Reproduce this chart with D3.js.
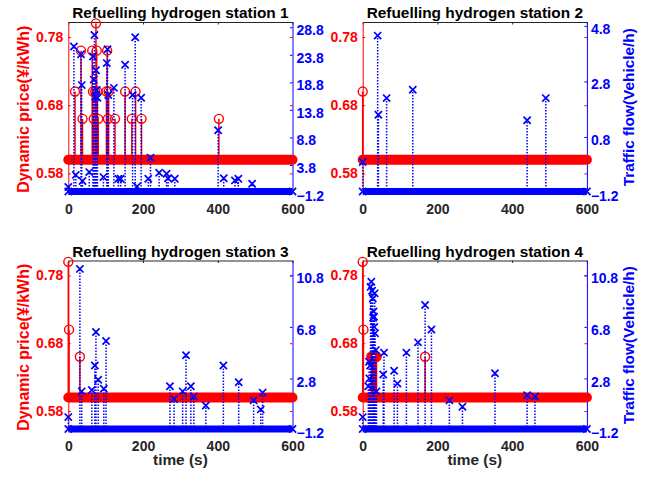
<html>
<head>
<script src="https://d3js.org/d3.v7.min.js"></script>
<style>
  body { margin: 0; background: white; }
  svg text { font-family: "Liberation Sans", Arial, sans-serif; font-weight: bold; }
</style>
</head>
<body>
<svg width="651" height="477"></svg>
<script>
var titles = ["Refuelling hydrogen station 1", "Refuelling hydrogen station 2",
              "Refuelling hydrogen station 3", "Refuelling hydrogen station 4"];
var timeDomain = [0, 600];
var timeTicks = [0, 200, 400, 600];
var priceDomain = [0.552, 0.802];
var priceTicks = [0.58, 0.68, 0.78];
var basePrice = 0.6;

// station 1
var priceTime1 = [18, 34, 38, 64, 66, 68, 72, 74, 76, 78, 80, 102, 104, 106, 108, 125, 152, 170, 180, 196, 403];
var price1 = [0.70, 0.76, 0.66, 0.76, 0.70, 0.66, 0.70, 0.80, 0.76, 0.70, 0.66, 0.70, 0.76, 0.66, 0.70, 0.66, 0.70, 0.66, 0.70, 0.66, 0.66];
var flowTime1 = [0, 15, 20, 34, 36, 38, 56, 66, 68, 70, 72, 74, 76, 78, 94, 103, 105, 107, 122, 134, 140, 152, 172, 179, 184, 195, 214, 220, 243, 263, 267, 285, 401, 416, 446, 455, 492];
var flow1 = [-0.2, 25.3, 2.0, 23.9, 18.3, 0.9, 2.5, 23.5, 19.3, 27.4, 16.2, 21.0, 17.4, 16.0, 1.6, 22.3, 24.8, 16.5, 17.8, 1.3, 1.3, 22.0, 16.5, 27.0, -0.1, 16.0, 1.3, 5.1, 2.4, 2.2, 1.4, 1.3, 10.1, 1.4, 1.0, 1.3, 0.4];
var flowTicks1 = [-1.2, 3.8, 8.8, 13.8, 18.8, 23.8, 28.8];

// station 2
var priceTime2 = [0];
var price2 = [0.70];
var flowTime2 = [0, 40, 42, 64, 134, 440, 490];
var flow2 = [-0.1, 4.45, 1.6, 2.2, 2.5, 1.4, 2.2];
var flowTicks2 = [-1.2, 0.8, 2.8, 4.8];

// station 3
var priceTime3 = [0, 2, 31];
var price3 = [0.80, 0.70, 0.66];
var flowTime3 = [0, 31, 36, 63, 71, 74, 80, 95, 101, 272, 283, 306, 315, 328, 336, 368, 415, 456, 496, 515, 520];
var flow3 = [-0.2, 11.3, 1.8, 1.9, 3.8, 6.4, 2.7, 2.0, 5.7, 2.2, 1.2, 1.8, 4.6, 2.2, 1.4, 0.7, 3.8, 2.5, 1.1, 0.4, 1.7];
var flowTicks3 = [-1.2, 2.8, 6.8, 10.8];

// station 4
var priceTime4 = [0, 2, 23, 25, 27, 29, 31, 33, 35, 37, 167];
var price4 = [0.80, 0.70, 0.66, 0.66, 0.66, 0.66, 0.66, 0.66, 0.66, 0.66, 0.66];
var flowTime4 = [0, 15, 17, 18, 20, 21, 23, 25, 27, 28, 29, 30, 31, 32, 33, 35, 37, 55, 57, 84, 93, 117, 148, 167, 184, 232, 267, 354, 440, 461];
var flow4 = [-0.2, 2.2, 4.1, 2.8, 3.8, 9.9, 10.3, 9.6, 9.0, 7.5, 8.0, 7.6, 6.8, 9.4, 6.3, 5.0, 1.8, 3.1, 4.8, 3.4, 2.4, 4.8, 5.6, 8.5, 6.6, 1.1, 0.6, 3.2, 1.5, 1.4];
var flowTicks4 = [-1.2, 2.8, 6.8, 10.8];

var flowMax = [29.76, 4.94, 11.95, 11.95];

var red = "#ff0000", blue = "#0000ff", ink = "#262626";
var colLeft = [68.3, 362.7], plotW = 224.2;
var rowTop = [22, 260.5], rowBottom = [192.5, 430];
var font = '"Liberation Sans", Arial, sans-serif';

var panels = [
  {pt: priceTime1, pv: price1, ft: flowTime1, fv: flow1, ticks: flowTicks1},
  {pt: priceTime2, pv: price2, ft: flowTime2, fv: flow2, ticks: flowTicks2},
  {pt: priceTime3, pv: price3, ft: flowTime3, fv: flow3, ticks: flowTicks3},
  {pt: priceTime4, pv: price4, ft: flowTime4, fv: flow4, ticks: flowTicks4}
];

var svg = d3.select("svg");

function styleAxis(sel, color) {
  sel.attr("color", color).attr("font-size", 14).attr("font-family", font).attr("font-weight", "bold");
}

panels.forEach(function(p, i) {
  var col = i % 2, row = Math.floor(i / 2);
  var x0 = colLeft[col], top = rowTop[row], bottom = rowBottom[row];
  var xs = d3.scaleLinear().domain(timeDomain).range([x0, x0 + plotW]);
  var yl = d3.scaleLinear().domain(priceDomain).range([bottom, top]);
  var yr = d3.scaleLinear().domain([p.ticks[0], flowMax[i]]).range([bottom, top]);
  var g = svg.append("g");

  // box + ticks
  g.append("g").attr("transform", "translate(0," + top + ")")
    .call(d3.axisTop(xs).tickValues(timeTicks).tickSizeInner(-2.5).tickSizeOuter(0).tickFormat(""))
    .call(styleAxis, ink);

  g.append("g").attr("transform", "translate(0," + bottom + ")")
    .call(d3.axisBottom(xs).tickValues(timeTicks).tickSizeInner(-2.5).tickSizeOuter(0).tickPadding(11.5))
    .call(styleAxis, ink);

  g.append("g").attr("transform", "translate(" + (x0 + plotW) + ",0)")
    .call(d3.axisRight(yl).tickValues(priceTicks).tickSizeInner(-2.5).tickSizeOuter(0).tickFormat(""))
    .call(styleAxis, red)
    .select(".domain").remove();

  g.append("g").attr("transform", "translate(" + x0 + ",0)")
    .call(d3.axisLeft(yl).tickValues(priceTicks).tickSizeInner(-2.5).tickSizeOuter(0).tickPadding(5).tickFormat(d3.format(".2f")))
    .call(styleAxis, red);

  var ra = g.append("g").attr("transform", "translate(" + (x0 + plotW) + ",0)")
    .call(d3.axisRight(yr).tickValues(p.ticks).tickSizeInner(-2.5).tickSizeOuter(0).tickPadding(4).tickFormat(d3.format(".1f")))
    .call(styleAxis, blue);
  ra.selectAll("text").attr("dy", "0.54em");

  // price: base band, stems, circles
  g.append("line")
    .attr("x1", xs(timeDomain[0])).attr("x2", xs(timeDomain[1]))
    .attr("y1", yl(basePrice)).attr("y2", yl(basePrice))
    .attr("stroke", red).attr("stroke-width", 10).attr("stroke-linecap", "round");

  g.selectAll(null).data(p.pt).enter().append("line")
    .attr("x1", function(d) { return xs(d); }).attr("x2", function(d) { return xs(d); })
    .attr("y1", yl(basePrice)).attr("y2", function(d, j) { return yl(p.pv[j]); })
    .attr("stroke", red).attr("stroke-width", 1.5);

  g.selectAll(null).data(p.pt).enter().append("circle")
    .attr("cx", function(d) { return xs(d); })
    .attr("cy", function(d, j) { return yl(p.pv[j]); })
    .attr("r", 4.5).attr("fill", "none").attr("stroke", red).attr("stroke-width", 1.4);

  // traffic flow: base band, dotted stems, x markers
  g.append("line")
    .attr("x1", xs(timeDomain[0])).attr("x2", xs(timeDomain[1]))
    .attr("y1", yr(p.ticks[0]) - 1).attr("y2", yr(p.ticks[0]) - 1)
    .attr("stroke", blue).attr("stroke-width", 7);

  var xMark = "M-3.6,-3.6L3.6,3.6M-3.6,3.6L3.6,-3.6";
  g.selectAll(null).data(timeDomain).enter().append("path")
    .attr("d", xMark)
    .attr("transform", function(d) { return "translate(" + xs(d) + "," + (yr(p.ticks[0]) - 1) + ")"; })
    .attr("stroke", blue).attr("stroke-width", 1.7);

  g.selectAll(null).data(p.ft).enter().append("line")
    .attr("x1", function(d) { return xs(d); }).attr("x2", function(d) { return xs(d); })
    .attr("y1", yr(p.ticks[0])).attr("y2", function(d, j) { return yr(p.fv[j]); })
    .attr("stroke", blue).attr("stroke-width", 1.5).attr("stroke-dasharray", "1.5,1.5");

  g.selectAll(null).data(p.ft).enter().append("path")
    .attr("d", xMark)
    .attr("transform", function(d, j) { return "translate(" + xs(d) + "," + yr(p.fv[j]) + ")"; })
    .attr("stroke", blue).attr("stroke-width", 1.7).attr("fill", "none");

  // texts
  var cx = x0 + plotW / 2, cy = (top + bottom) / 2;
  g.append("text").attr("x", cx).attr("y", top - 4)
    .attr("text-anchor", "middle").attr("font-size", 15.4).attr("fill", "#000")
    .text(titles[i]);

  if (col === 0) {
    g.append("text").attr("transform", "translate(29," + (cy + 2) + ") rotate(-90)")
      .attr("text-anchor", "middle").attr("font-size", 16).attr("fill", red)
      .text("Dynamic price(¥/kWh)");
  } else {
    g.append("text").attr("transform", "translate(634," + cy + ") rotate(-90)")
      .attr("text-anchor", "middle").attr("font-size", 15.4).attr("fill", blue)
      .text("Traffic flow(Vehicle/h)");
  }
  if (row === 1) {
    g.append("text").attr("x", cx).attr("y", 465)
      .attr("text-anchor", "middle").attr("font-size", 15.4).attr("fill", ink)
      .text("time (s)");
  }
});
</script>
</body>
</html>
